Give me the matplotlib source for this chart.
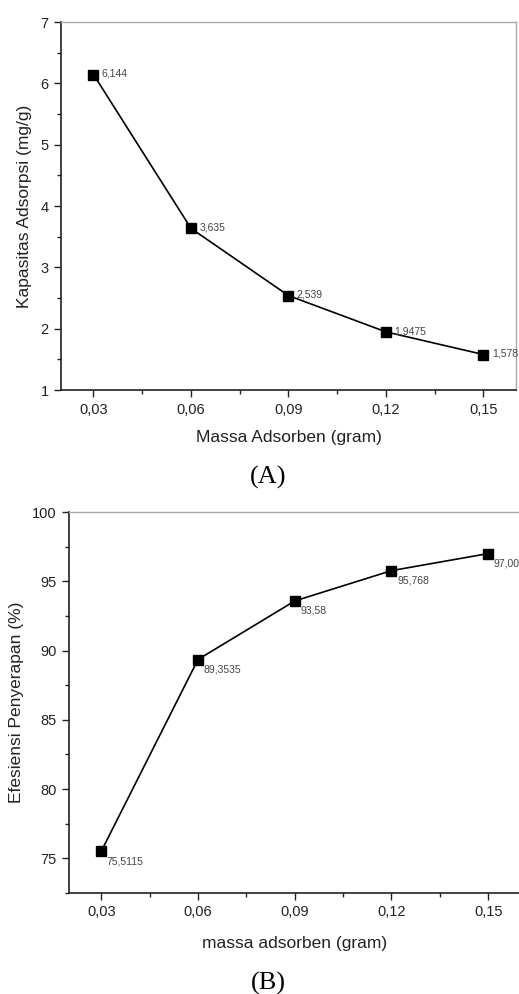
import matplotlib
matplotlib.use("Agg")
import matplotlib.pyplot as plt
from matplotlib.ticker import MultipleLocator

massa = [0.03, 0.06, 0.09, 0.12, 0.15]
kapasitas = [6.144, 3.635, 2.539, 1.9475, 1.578]
kapasitas_labels = ["6,144", "3,635", "2,539", "1,9475", "1,578"]
efisiensi = [75.5115, 89.3535, 93.58, 95.768, 97.00]
efisiensi_labels = ["75,5115", "89,3535", "93,58", "95,768", "97,00"]
xticks = [0.03, 0.06, 0.09, 0.12, 0.15]
xtick_labels = ["0,03", "0,06", "0,09", "0,12", "0,15"]

plt.rcParams['font.family'] = ['Liberation Sans', 'DejaVu Sans']

W, H = 519, 994
fig = plt.figure(figsize=(W / 100, H / 100), dpi=100)

def px_axes(left, top, right, bottom):
    return fig.add_axes([left / W, 1 - bottom / H, (right - left) / W, (bottom - top) / H])

def style(ax):
    for s in ['left', 'bottom']:
        ax.spines[s].set_color('#222222')
        ax.spines[s].set_linewidth(1.2)
    for s in ['top', 'right']:
        ax.spines[s].set_color('#aaaaaa')
        ax.spines[s].set_linewidth(1.0)
    ax.tick_params(which='both', direction='out', top=False, right=False, color='#222222')
    ax.tick_params(which='major', length=5, width=1.0, labelsize=10.5, pad=4, labelcolor='#222222')
    ax.tick_params(which='minor', length=3, width=1.0)
    ax.set_xticks(xticks)
    ax.set_xticklabels(xtick_labels)
    ax.xaxis.set_minor_locator(MultipleLocator(0.015))
    ax.set_xlim(0.02, 0.16)

# Chart A
ax1 = px_axes(61, 22, 516, 390)
style(ax1)
ax1.plot(massa, kapasitas, color='black', lw=1.2, marker='s', ms=7.5,
         markerfacecolor='black', markeredgecolor='black')
ax1.set_ylim(1, 7)
ax1.yaxis.set_major_locator(MultipleLocator(1))
ax1.yaxis.set_minor_locator(MultipleLocator(0.5))
for x, y, t in zip(massa, kapasitas, kapasitas_labels):
    ax1.annotate(t, (x, y), xytext=(6, 0.5), textcoords='offset points',
                 fontsize=7.5, color='#444444', va='center', ha='left',
                 annotation_clip=False)
ax1.set_xlabel("Massa Adsorben (gram)", fontsize=12.5, color='#222222', labelpad=10)
ax1.set_ylabel("Kapasitas Adsorpsi (mg/g)", fontsize=12.5, color='#222222', labelpad=6)
fig.text(268 / W, 1 - 477 / H, "(A)", fontsize=19, family=['Liberation Serif', 'DejaVu Serif'],
         ha='center', va='center', color='black')

# Chart B
ax2 = px_axes(69, 512, 520.5, 893)
style(ax2)
ax2.plot(massa, efisiensi, color='black', lw=1.2, marker='s', ms=7.5,
         markerfacecolor='black', markeredgecolor='black')
ax2.set_ylim(72.5, 100)
ax2.yaxis.set_major_locator(MultipleLocator(5))
ax2.yaxis.set_minor_locator(MultipleLocator(2.5))
for x, y, t in zip(massa, efisiensi, efisiensi_labels):
    ax2.annotate(t, (x, y), xytext=(4, -3.5), textcoords='offset points',
                 fontsize=7.5, color='#444444', va='top', ha='left',
                 annotation_clip=False)
ax2.set_xlabel("massa adsorben (gram)", fontsize=12.5, color='#222222', labelpad=12)
ax2.set_ylabel("Efesiensi Penyerapan (%)", fontsize=12.5, color='#222222', labelpad=6)
fig.text(268 / W, 1 - 983 / H, "(B)", fontsize=19, family=['Liberation Serif', 'DejaVu Serif'],
         ha='center', va='center', color='black')

fig.savefig("out.png", dpi=100)
